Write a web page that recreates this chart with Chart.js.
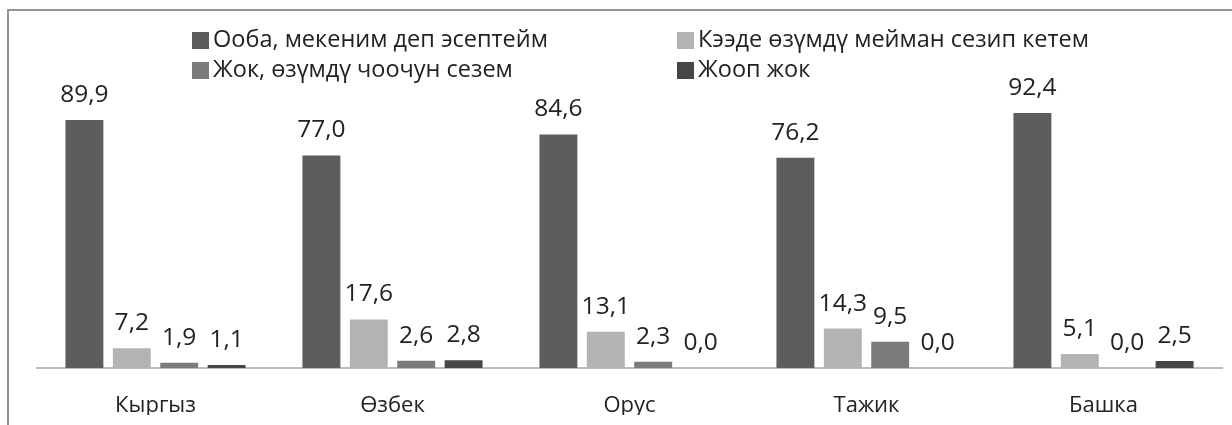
<!DOCTYPE html>
<html>
<head>
<meta charset="utf-8">
<script src="https://cdn.jsdelivr.net/npm/chart.js@4/dist/chart.umd.min.js"></script>
<style>
  html, body { margin: 0; padding: 0; background: #fff; }
  #wrap { position: relative; width: 1232px; height: 425px; overflow: hidden; }
  #frame { position: absolute; left: 7px; top: 9px; width: 1240px; height: 440px;
           border: 2px solid #939393; pointer-events: none; }
  canvas { position: absolute; left: 0; top: 0; }
</style>
</head>
<body>
<div id="wrap">
  <canvas id="chart" width="1232" height="425"></canvas>
  <div id="frame"></div>
</div>
<script>
// categories and series
const groups = ['Кыргыз', 'Өзбек', 'Орус', 'Тажик', 'Башка'];
const seriesNames = [
  'Ооба, мекеним деп эсептейм',
  'Кээде өзүмдү мейман сезип кетем',
  'Жок, өзүмдү чоочун сезем',
  'Жооп жок'
];
const yes      = [89.9, 77.0, 84.6, 76.2, 92.4];
const sometime = [7.2, 17.6, 13.1, 14.3, 5.1];
const no       = [1.9, 2.6, 2.3, 9.5, 0.0];
const noAnswer = [1.1, 2.8, 0.0, 0.0, 2.5];
const colors   = ['#5d5d5d', '#b3b3b3', '#7b7b7b', '#464646'];

const FONT = '"Open Sans", "DejaVu Sans", sans-serif';

// value labels above each bar, comma as decimal mark
const valueLabels = {
  id: 'valueLabels',
  afterDatasetsDraw(chart) {
    const ctx = chart.ctx;
    ctx.save();
    ctx.font = '24.5px ' + FONT;
    ctx.fillStyle = '#222';
    ctx.textAlign = 'center';
    ctx.textBaseline = 'middle';
    chart.data.datasets.forEach((ds, i) => {
      chart.getDatasetMeta(i).data.forEach((bar, j) => {
        const txt = ds.data[j].toFixed(1).replace('.', ',');
        ctx.fillText(txt, bar.x, bar.y - 25);
      });
    });
    ctx.restore();
  }
};

// two-column legend at the top
const gridLegend = {
  id: 'gridLegend',
  afterDraw(chart) {
    const ctx = chart.ctx;
    const cols = [192, 677];
    const rows = [40, 70];
    ctx.save();
    ctx.font = '23.5px ' + FONT;
    ctx.textBaseline = 'middle';
    ctx.textAlign = 'left';
    chart.data.datasets.forEach((ds, i) => {
      const x = cols[i % 2];
      const y = rows[Math.floor(i / 2)];
      ctx.fillStyle = ds.backgroundColor;
      ctx.fillRect(x, y - 8, 17, 17);
      ctx.fillStyle = '#222';
      ctx.fillText(ds.label, x + 21, y);
    });
    ctx.restore();
  }
};

new Chart(document.getElementById('chart'), {
  type: 'bar',
  data: {
    labels: groups,
    datasets: [
      { label: seriesNames[0], data: yes,      backgroundColor: colors[0] },
      { label: seriesNames[1], data: sometime, backgroundColor: colors[1] },
      { label: seriesNames[2], data: no,       backgroundColor: colors[2] },
      { label: seriesNames[3], data: noAnswer, backgroundColor: colors[3] }
    ]
  },
  options: {
    responsive: false,
    animation: false,
    categoryPercentage: 0.8,
    barPercentage: 0.8,
    layout: { padding: { left: 37, right: 10, top: 92, bottom: 10 } },
    plugins: {
      legend:  { display: false },
      tooltip: { enabled: false }
    },
    scales: {
      x: {
        afterFit(scale) { scale.height = 47; },
        grid:   { display: false },
        border: { display: true, color: '#bdbdbd', width: 2 },
        ticks:  { color: '#222', padding: 17, font: { family: FONT, size: 22 } }
      },
      y: { display: false, min: 0, max: 100 }
    }
  },
  plugins: [valueLabels, gridLegend]
});
</script>
</body>
</html>
